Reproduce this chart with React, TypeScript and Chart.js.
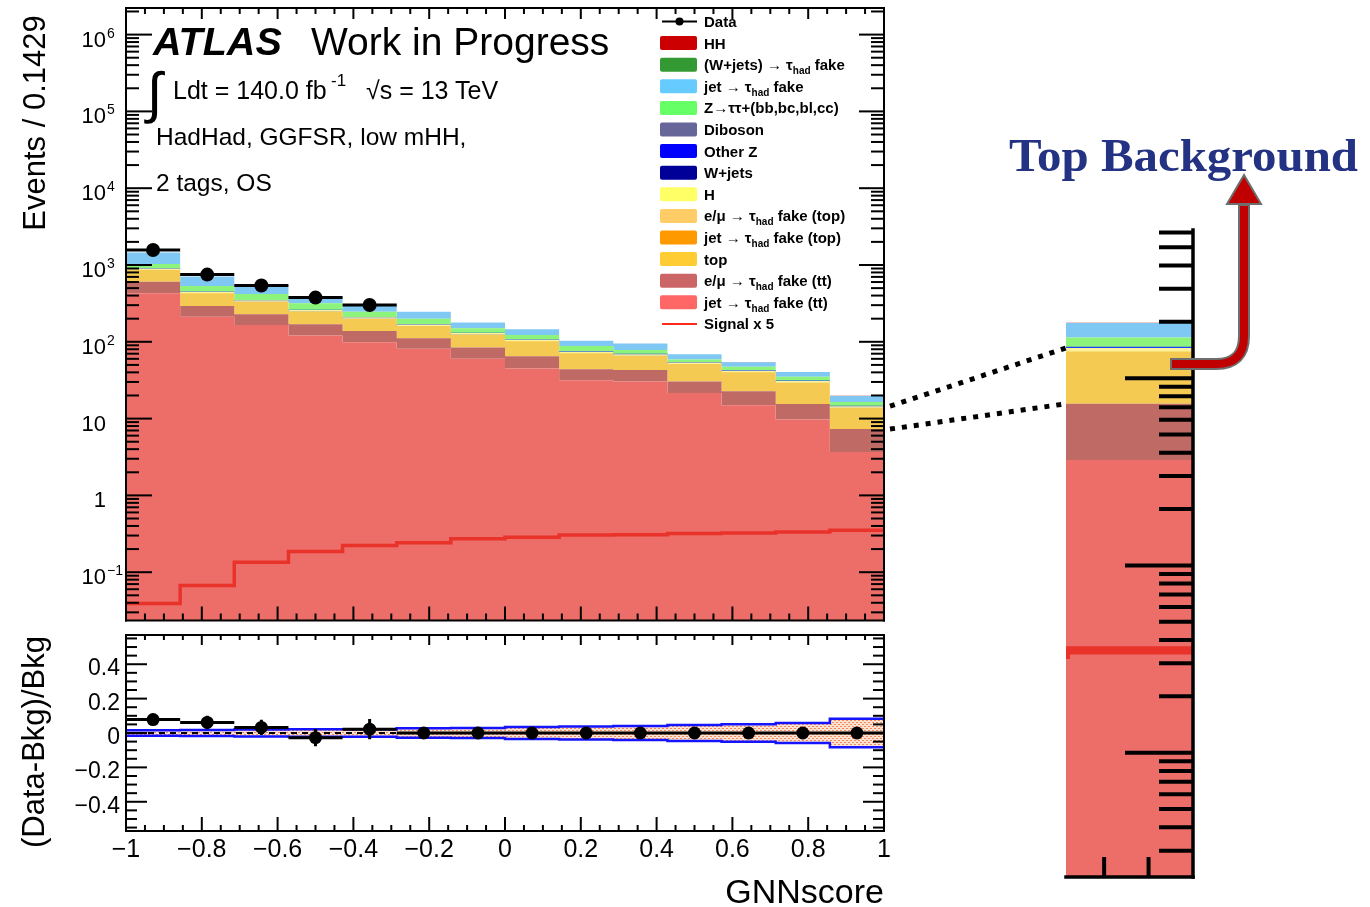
import { useEffect, useRef, useState } from 'react';
import { Chart, registerables } from 'chart.js';

Chart.register(...registerables);

const SANS = '"Liberation Sans", Arial, Helvetica, sans-serif';
const SERIF = '"Liberation Serif", "Times New Roman", serif';

// GNNscore binning: 14 bins of width 0.1429 on [-1, 1]
const binEdges = [-1, -0.8571, -0.7143, -0.5714, -0.4286, -0.2857, -0.1429, 0, 0.1429, 0.2857, 0.4286, 0.5714, 0.7143, 0.8571, 1];

// Expected events per bin, stacked from the bottom up
const jetFakeTT = [429, 212, 165, 121, 99, 81, 60, 45, 31.6, 30.4, 21.6, 14.9, 9.7, 3.66];
const emuFakeTT = [178, 80, 63, 48, 39, 30, 24, 20, 12.4, 12.4, 8.8, 7.8, 5.8, 3.64];
const topQuark = [266, 142, 108, 83, 64, 52, 42, 38, 28, 24, 21.4, 17.9, 14.3, 6.7];
const jetFakeTop = [2.0, 1.0, 0.8, 0.6, 0.5, 0.4, 0.3, 0.3, 0.2, 0.2, 0.2, 0.15, 0.1, 0.05];
const emuFakeTop = [1.5, 0.8, 0.6, 0.5, 0.4, 0.3, 0.25, 0.2, 0.15, 0.15, 0.1, 0.1, 0.08, 0.04];
const higgs = [3.0, 1.6, 1.3, 1.0, 0.8, 0.7, 0.5, 0.45, 0.4, 0.35, 0.3, 0.25, 0.2, 0.1];
const wJets = [2.0, 1.1, 0.9, 0.7, 0.5, 0.4, 0.3, 0.3, 0.2, 0.2, 0.15, 0.12, 0.1, 0.05];
const otherZ = [4.0, 2.4, 2.0, 1.6, 1.3, 1.1, 0.9, 0.7, 0.6, 0.5, 0.45, 0.4, 0.3, 0.15];
const diboson = [3.0, 1.5, 1.2, 1.0, 0.8, 0.6, 0.5, 0.4, 0.3, 0.3, 0.25, 0.2, 0.15, 0.1];
const zTauTau = [144, 92, 77, 60, 40, 33, 21, 17, 14, 9.5, 5.7, 5.4, 4.3, 2.0];
const jetFake = [419, 172, 103, 69, 49, 46, 28, 23, 15, 17, 10, 7.1, 5.3, 3.2];
const wJetsFake = [0.5, 0.3, 0.2, 0.15, 0.1, 0.1, 0.08, 0.06, 0.05, 0.05, 0.04, 0.03, 0.02, 0.01];
const hhSignal = [0.008, 0.013, 0.027, 0.037, 0.045, 0.048, 0.055, 0.057, 0.061, 0.061, 0.064, 0.065, 0.067, 0.07];

// HH signal scaled by 5, drawn as a line
const signalX5 = [0.039, 0.067, 0.135, 0.186, 0.223, 0.242, 0.273, 0.286, 0.304, 0.307, 0.32, 0.323, 0.333, 0.352];

// Observed events (signal-like bins are blinded)
const dataObserved: (number | null)[] = [1565, 750, 540, 376, 302, null, null, null, null, null, null, null, null, null];

// Relative background uncertainty (half width of the band in the ratio panel)
const bkgUnc = [0.016, 0.018, 0.02, 0.022, 0.022, 0.028, 0.029, 0.035, 0.038, 0.041, 0.047, 0.051, 0.058, 0.083];

// Axis ticks and labels
const xMajorTicks = [-1, -0.8, -0.6, -0.4, -0.2, 0, 0.2, 0.4, 0.6, 0.8, 1];
const xTickLabels = ['\u22121', '\u22120.8', '\u22120.6', '\u22120.4', '\u22120.2', '0', '0.2', '0.4', '0.6', '0.8', '1'];
const mainYTickValues = [0.1, 1, 10, 100, 1e3, 1e4, 1e5, 1e6];
const mainYTickLabels = [['10', '\u22121'], ['1', ''], ['10', ''], ['10', '2'], ['10', '3'], ['10', '4'], ['10', '5'], ['10', '6']];
const ratioMajorTicks = [-0.4, -0.2, 0, 0.2, 0.4];
const ratioTickLabels = ['\u22120.4', '\u22120.2', '0', '0.2', '0.4'];
const insetMajorTicks = [0.1, 1, 10];
const insetXTicks = [0.9, 0.95];

const xMinorTicks: number[] = [];
for (let k = -19; k <= 19; k++) if (k % 4 !== 0) xMinorTicks.push(k * 0.05);
const ratioMinorTicks: number[] = [];
for (let k = -11; k <= 11; k++) if (k % 4 !== 0) ratioMinorTicks.push(k * 0.05);
const logMinorTicks: number[] = [];
for (let d = -3; d <= 6; d++) for (let m = 2; m <= 9; m++) logMinorTicks.push(m * Math.pow(10, d));

type Layer = { name: string; values: number[]; fill: string; legend: string; line?: string; lineWidth?: number };

const layers: Layer[] = [
  { name: 'jet \u2192 \u03c4_{had} fake (tt)', values: jetFakeTT, fill: '#ed6e68', legend: '#ff6666' },
  { name: 'e/\u03bc \u2192 \u03c4_{had} fake (tt)', values: emuFakeTT, fill: '#c06a66', legend: '#cc6666' },
  { name: 'top', values: topQuark, fill: '#f5ca52', legend: '#ffcc33' },
  { name: 'jet \u2192 \u03c4_{had} fake (top)', values: jetFakeTop, fill: '#f7a030', legend: '#ff9900' },
  { name: 'e/\u03bc \u2192 \u03c4_{had} fake (top)', values: emuFakeTop, fill: '#f8d070', legend: '#ffcc66' },
  { name: 'H', values: higgs, fill: '#fbf07a', legend: '#ffff66', line: '#fbf29a', lineWidth: 1.5 },
  { name: 'W+jets', values: wJets, fill: '#1a1a99', legend: '#000099' },
  { name: 'Other Z', values: otherZ, fill: '#1f3cff', legend: '#0000ff', line: '#1f3cff', lineWidth: 1.5 },
  { name: 'Diboson', values: diboson, fill: '#6a6a9c', legend: '#666699' },
  { name: 'Z\u2192\u03c4\u03c4+(bb,bc,bl,cc)', values: zTauTau, fill: '#8cf47a', legend: '#66ff66' },
  { name: 'jet \u2192 \u03c4_{had} fake', values: jetFake, fill: '#80c8f4', legend: '#66ccff' },
  { name: '(W+jets) \u2192 \u03c4_{had} fake', values: wJetsFake, fill: '#44a044', legend: '#339933' },
  { name: 'HH', values: hhSignal, fill: '#cc2020', legend: '#cc0000' },
];

// cumulative stack levels
const cumulative: number[][] = [];
layers.forEach((l, i) => {
  cumulative.push(l.values.map((v, b) => v + (i > 0 ? cumulative[i - 1][b] : 0)));
});
const bkgTotal = cumulative[layers.length - 2];
const binCenters = binEdges.slice(0, -1).map((e, i) => (e + binEdges[i + 1]) / 2);
const ratioValues = dataObserved.map((d, i) => (d == null ? 0 : d / bkgTotal[i] - 1));
const ratioErrors = dataObserved.map((d, i) => (d == null ? null : Math.sqrt(d) / bkgTotal[i]));

const stepPoints = (vals: number[]) => [
  ...vals.map((v, i) => ({ x: binEdges[i], y: v })),
  { x: binEdges[vals.length], y: vals[vals.length - 1] },
];
const segPoints = (vals: (number | null)[]) =>
  vals.flatMap((v, i) =>
    v == null ? [] : [{ x: binEdges[i], y: v }, { x: binEdges[i + 1], y: v }, { x: binEdges[i + 1], y: null }]
  );
const vBarPoints = (vals: (number | null)[], errs: (number | null)[]) =>
  vals.flatMap((v, i) =>
    v == null || errs[i] == null
      ? []
      : [{ x: binCenters[i], y: v - (errs[i] as number) }, { x: binCenters[i], y: v + (errs[i] as number) }, { x: binCenters[i], y: null }]
  );

function stackDatasets(scale: number): any[] {
  const fills = layers.map((l, i) => ({
    type: 'line',
    label: l.name,
    data: stepPoints(cumulative[i]),
    stepped: true,
    borderColor: 'rgba(0,0,0,0)',
    borderWidth: 0,
    backgroundColor: l.fill,
    fill: i === 0 ? 'start' : '-1',
    pointRadius: 0,
    order: 6,
  }));
  const edges = layers.flatMap((l, i) =>
    l.line
      ? [{
          type: 'line',
          label: l.name + ' edge',
          data: segPoints(cumulative[i]),
          borderColor: l.line,
          borderWidth: (l.lineWidth || 1) * scale,
          pointRadius: 0,
          fill: false,
          spanGaps: false,
          order: 5,
        }]
      : []
  );
  const signal = {
    type: 'line',
    label: 'Signal x 5',
    data: stepPoints(signalX5),
    stepped: true,
    borderColor: '#e8322a',
    borderWidth: 3.5 * scale,
    pointRadius: 0,
    fill: false,
    order: 3,
  };
  return [...fills, ...edges, signal];
}

type TickSet = { values: number[]; len: number };
type Deco = {
  frame: { sides: string[]; width: number };
  tickWidth: number;
  top?: TickSet[];
  bottom?: TickSet[];
  left?: TickSet[];
  right?: TickSet[];
  xLabels?: { values: number[]; texts: string[]; font: string; gap: number };
  yLabels?: { values: number[]; texts: string[]; font: string; right: number; dy: number };
  logLabels?: { values: number[]; labels: string[][]; font: string; supFont: string; right: number; dy: number; supDy: number };
};

// ROOT-style frame with inward ticks on all sides
const axesPlugin = (deco: Deco) => ({
  id: 'rootAxes',
  afterDatasetsDraw(chart: any) {
    const { ctx, chartArea: a } = chart;
    const xs = chart.scales.x;
    const ys = chart.scales.y;
    const inX = (v: number) => v >= xs.min - 1e-9 && v <= xs.max + 1e-9;
    const inY = (v: number) => v >= ys.min - 1e-12 && v <= ys.max + 1e-9;
    const seg = (x1: number, y1: number, x2: number, y2: number) => {
      ctx.beginPath();
      ctx.moveTo(x1, y1);
      ctx.lineTo(x2, y2);
      ctx.stroke();
    };
    ctx.save();
    ctx.strokeStyle = '#000';
    ctx.lineWidth = deco.tickWidth;
    ctx.lineCap = 'butt';
    (deco.bottom || []).forEach((t) => t.values.filter(inX).forEach((v) => {
      const p = xs.getPixelForValue(v);
      seg(p, a.bottom, p, a.bottom - t.len);
    }));
    (deco.top || []).forEach((t) => t.values.filter(inX).forEach((v) => {
      const p = xs.getPixelForValue(v);
      seg(p, a.top, p, a.top + t.len);
    }));
    (deco.left || []).forEach((t) => t.values.filter(inY).forEach((v) => {
      const p = ys.getPixelForValue(v);
      seg(a.left, p, a.left + t.len, p);
    }));
    (deco.right || []).forEach((t) => t.values.filter(inY).forEach((v) => {
      const p = ys.getPixelForValue(v);
      seg(a.right, p, a.right - t.len, p);
    }));
    ctx.lineWidth = deco.frame.width;
    ctx.lineCap = 'square';
    const s = deco.frame.sides;
    if (s.includes('top')) seg(a.left, a.top, a.right, a.top);
    if (s.includes('bottom')) seg(a.left, a.bottom, a.right, a.bottom);
    if (s.includes('left')) seg(a.left, a.top, a.left, a.bottom);
    if (s.includes('right')) seg(a.right, a.top, a.right, a.bottom);
    ctx.fillStyle = '#000';
    if (deco.xLabels) {
      const L = deco.xLabels;
      ctx.font = L.font;
      ctx.textAlign = 'center';
      ctx.textBaseline = 'alphabetic';
      L.values.forEach((v, i) => ctx.fillText(L.texts[i], xs.getPixelForValue(v), a.bottom + L.gap));
    }
    if (deco.yLabels) {
      const L = deco.yLabels;
      ctx.font = L.font;
      ctx.textAlign = 'right';
      ctx.textBaseline = 'alphabetic';
      L.values.forEach((v, i) => ctx.fillText(L.texts[i], L.right, ys.getPixelForValue(v) + L.dy));
    }
    if (deco.logLabels) {
      const L = deco.logLabels;
      ctx.textBaseline = 'alphabetic';
      L.values.forEach((v, i) => {
        if (!inY(v)) return;
        const p = ys.getPixelForValue(v);
        const [base, sup] = L.labels[i];
        ctx.font = L.font;
        ctx.textAlign = 'right';
        ctx.fillText(base, L.right, p + L.dy);
        if (sup) {
          ctx.font = L.supFont;
          ctx.textAlign = 'left';
          ctx.fillText(sup, L.right + 1, p + L.supDy);
        }
      });
    }
    ctx.restore();
  },
});

const MAIN = { left: 0, top: 0, w: 900, h: 630 };
const RATIO = { left: 0, top: 630, w: 900, h: 277 };
const INSET = { left: 1040, top: 210, w: 200, h: 690 };

const baseOptions = (padding: any, x: any, y: any) => ({
  animation: false,
  responsive: false,
  maintainAspectRatio: false,
  events: [],
  layout: { padding, autoPadding: false },
  plugins: { legend: { display: false }, tooltip: { enabled: false } },
  elements: { line: { tension: 0 } },
  scales: { x: { ...x, display: false }, y: { ...y, display: false } },
});

function richText(s: string, subSize: number) {
  const parts = s.split(/_\{([^}]*)\}/);
  return parts.map((p, i) =>
    i % 2 === 1 ? (
      <tspan key={i} dy={4} fontSize={subSize}>{p}</tspan>
    ) : (
      <tspan key={i} dy={i > 0 ? -4 : 0}>{p}</tspan>
    )
  );
}

type Link = { x1: number; y1: number; x2: number; y2: number };

export default function App() {
  const mainRef = useRef<HTMLCanvasElement>(null);
  const ratioRef = useRef<HTMLCanvasElement>(null);
  const insetRef = useRef<HTMLCanvasElement>(null);
  const [links, setLinks] = useState<Link[]>([]);

  useEffect(() => {
    const charts: Chart[] = [];

    const main = new Chart(mainRef.current as HTMLCanvasElement, {
      type: 'line',
      data: {
        datasets: [
          ...stackDatasets(1),
          {
            type: 'line', label: 'Data bins', data: segPoints(dataObserved), borderColor: '#000',
            borderWidth: 3, pointRadius: 0, fill: false, spanGaps: false, order: 2,
          },
          {
            type: 'line', label: 'Data errors',
            data: vBarPoints(dataObserved, dataObserved.map((d) => (d == null ? null : Math.sqrt(d)))),
            borderColor: '#000', borderWidth: 3, pointRadius: 0, fill: false, spanGaps: false, order: 2,
          },
          {
            type: 'line', label: 'Data',
            data: dataObserved.flatMap((d, i) => (d == null ? [] : [{ x: binCenters[i], y: d }])),
            showLine: false, pointRadius: 7, pointBackgroundColor: '#000', pointBorderColor: '#000',
            pointBorderWidth: 0, order: 1,
          },
        ] as any,
      },
      options: baseOptions(
        { left: 126, top: 8, right: MAIN.w - 884, bottom: MAIN.h - 620.5 },
        { type: 'linear', min: -1, max: 1 },
        { type: 'logarithmic', min: 0.0235, max: 2.22e6 }
      ) as any,
      plugins: [axesPlugin({
        frame: { sides: ['top', 'bottom', 'left', 'right'], width: 2 },
        tickWidth: 2,
        bottom: [{ values: xMajorTicks, len: 14 }, { values: xMinorTicks, len: 7 }],
        top: [{ values: xMajorTicks, len: 11 }, { values: xMinorTicks, len: 6 }],
        left: [{ values: mainYTickValues, len: 26 }, { values: logMinorTicks, len: 13 }],
        right: [{ values: mainYTickValues, len: 25 }, { values: logMinorTicks, len: 13 }],
        logLabels: {
          values: mainYTickValues, labels: mainYTickLabels, font: `22px ${SANS}`,
          supFont: `14px ${SANS}`, right: 106, dy: 12, supDy: 3,
        },
      })],
    });
    charts.push(main);

    // dotted hatch for the uncertainty band
    const pc = document.createElement('canvas');
    pc.width = 4;
    pc.height = 4;
    const g = pc.getContext('2d') as CanvasRenderingContext2D;
    g.fillStyle = '#fde2d2';
    g.fillRect(0, 0, 4, 4);
    g.fillStyle = '#f28a5c';
    g.fillRect(0, 0, 2, 1);
    g.fillRect(2, 2, 2, 1);
    const hatch = g.createPattern(pc, 'repeat');

    const ratio = new Chart(ratioRef.current as HTMLCanvasElement, {
      type: 'line',
      data: {
        datasets: [
          {
            type: 'line', label: 'Uncertainty up', data: stepPoints(bkgUnc), stepped: true,
            borderColor: '#1414ff', borderWidth: 2.5, pointRadius: 0, fill: false, order: 6,
          },
          {
            type: 'line', label: 'Uncertainty', data: stepPoints(bkgUnc.map((v) => -v)), stepped: true,
            borderColor: '#1414ff', borderWidth: 2.5, pointRadius: 0, fill: '-1', backgroundColor: hatch, order: 6,
          },
          {
            type: 'line', label: 'Zero', data: [{ x: -1, y: 0 }, { x: 1, y: 0 }], borderColor: '#000',
            borderWidth: 2, borderDash: [6, 5], pointRadius: 0, fill: false, order: 4,
          },
          {
            type: 'line', label: 'Ratio bins', data: segPoints(ratioValues), borderColor: '#000',
            borderWidth: 3, pointRadius: 0, fill: false, spanGaps: false, order: 2,
          },
          {
            type: 'line', label: 'Ratio errors', data: vBarPoints(ratioValues, ratioErrors), borderColor: '#000',
            borderWidth: 3, pointRadius: 0, fill: false, spanGaps: false, order: 2,
          },
          {
            type: 'line', label: 'Ratio', data: ratioValues.map((r, i) => ({ x: binCenters[i], y: r })),
            showLine: false, pointRadius: 6.5, pointBackgroundColor: '#000', pointBorderColor: '#000',
            pointBorderWidth: 0, order: 1,
          },
        ] as any,
      },
      options: baseOptions(
        { left: 126, top: 635 - RATIO.top, right: RATIO.w - 884, bottom: RATIO.top + RATIO.h - 831 },
        { type: 'linear', min: -1, max: 1 },
        { type: 'linear', min: -0.57, max: 0.57 }
      ) as any,
      plugins: [axesPlugin({
        frame: { sides: ['top', 'bottom', 'left', 'right'], width: 2 },
        tickWidth: 2,
        bottom: [{ values: xMajorTicks, len: 14 }, { values: xMinorTicks, len: 6 }],
        top: [{ values: xMajorTicks, len: 10 }, { values: xMinorTicks, len: 5 }],
        left: [{ values: ratioMajorTicks, len: 21 }, { values: ratioMinorTicks, len: 11 }],
        right: [{ values: ratioMajorTicks, len: 21 }, { values: ratioMinorTicks, len: 11 }],
        xLabels: { values: xMajorTicks, texts: xTickLabels, font: `25px ${SANS}`, gap: 26 },
        yLabels: { values: ratioMajorTicks, texts: ratioTickLabels, font: `23px ${SANS}`, right: 120, dy: 11 },
      })],
    });
    charts.push(ratio);

    const inset = new Chart(insetRef.current as HTMLCanvasElement, {
      type: 'line',
      data: { datasets: stackDatasets(2.3) as any },
      options: baseOptions(
        { left: 1066 - INSET.left, top: 230 - INSET.top, right: INSET.left + INSET.w - 1193, bottom: INSET.top + INSET.h - 877 },
        { type: 'linear', min: 0.8571, max: 1 },
        { type: 'logarithmic', min: 0.0217, max: 61.8 }
      ) as any,
      plugins: [axesPlugin({
        frame: { sides: ['right', 'bottom'], width: 3.5 },
        tickWidth: 4,
        right: [{ values: insetMajorTicks, len: 68 }, { values: logMinorTicks, len: 34 }],
        bottom: [{ values: insetXTicks, len: 20 }],
      })],
    });
    charts.push(inset);

    // connectors from the last bin of the main panel to the magnified view
    const last = binEdges.length - 2;
    const levels = [cumulative[8][last], cumulative[1][last]];
    setLinks(levels.map((v) => ({
      x1: MAIN.left + main.chartArea.right + 6,
      y1: MAIN.top + main.scales.y.getPixelForValue(v),
      x2: INSET.left + inset.chartArea.left,
      y2: INSET.top + inset.scales.y.getPixelForValue(v),
    })));

    return () => charts.forEach((c) => c.destroy());
  }, []);

  const legendRowY = (i: number) => 21.5 + 21.6 * i;
  const legendLayers = [...layers].reverse();

  return (
    <div style={{ position: 'absolute', left: 0, top: 0, width: 1370, height: 907, background: '#fff', overflow: 'hidden' }}>
      <canvas ref={mainRef} width={MAIN.w} height={MAIN.h}
        style={{ position: 'absolute', left: MAIN.left, top: MAIN.top, width: MAIN.w, height: MAIN.h }} />
      <canvas ref={ratioRef} width={RATIO.w} height={RATIO.h}
        style={{ position: 'absolute', left: RATIO.left, top: RATIO.top, width: RATIO.w, height: RATIO.h }} />
      <canvas ref={insetRef} width={INSET.w} height={INSET.h}
        style={{ position: 'absolute', left: INSET.left, top: INSET.top, width: INSET.w, height: INSET.h }} />
      <svg width={1370} height={907} style={{ position: 'absolute', left: 0, top: 0 }} fontFamily={SANS}>
        <text x={153} y={55} fontSize={39.5} fontWeight="bold" fontStyle="italic">ATLAS</text>
        <text x={311} y={55} fontSize={39}>Work in Progress</text>
        <text x={147} y={112} fontSize={56}>{'\u222b'}</text>
        <text x={173} y={99} fontSize={25}>Ldt = 140.0 fb</text>
        <text x={331} y={86} fontSize={17}>-1</text>
        <text x={366} y={99} fontSize={25}>{'\u221as = 13 TeV'}</text>
        <text x={156} y={145} fontSize={24.5}>HadHad, GGFSR, low mHH,</text>
        <text x={156} y={191} fontSize={24.5}>2 tags, OS</text>

        <g fontWeight="bold" fontSize={15}>
          <line x1={662} x2={697} y1={legendRowY(0)} y2={legendRowY(0)} stroke="#000" strokeWidth={2} />
          <circle cx={679.5} cy={legendRowY(0)} r={4} fill="#000" />
          <text x={704} y={legendRowY(0) + 5.5}>Data</text>
          {legendLayers.map((l, k) => {
            const cy = legendRowY(k + 1);
            return (
              <g key={l.name}>
                <rect x={660} y={cy - 7} width={37} height={14} rx={2} fill={l.legend} />
                <text x={704} y={cy + 5.5} style={{ whiteSpace: 'pre' }}>{richText(l.name, 10)}</text>
              </g>
            );
          })}
          <line x1={662} x2={697} y1={legendRowY(14)} y2={legendRowY(14)} stroke="#ff2a1a" strokeWidth={2} />
          <text x={704} y={legendRowY(14) + 5.5}>Signal x 5</text>
        </g>

        <text transform="translate(45,123) rotate(-90)" textAnchor="middle" fontSize={31}>Events / 0.1429</text>
        <text transform="translate(44,742) rotate(-90)" textAnchor="middle" fontSize={31}>(Data-Bkg)/Bkg</text>
        <text x={884} y={903} textAnchor="end" fontSize={34}>GNNscore</text>

        {links.map((l, i) => (
          <line key={i} x1={l.x1} y1={l.y1} x2={l.x2} y2={l.y2} stroke="#000" strokeWidth={5} strokeDasharray="5 7" />
        ))}

        <text x={1009} y={171} fontFamily={SERIF} fontWeight="bold" fontSize={46} fill="#233282"
          textLength={349} lengthAdjust="spacingAndGlyphs">Top Background</text>
        <path d="M1170 364 H1216 Q1244 364 1244 336 V203" stroke="#6e6e6e" strokeWidth={12} fill="none" />
        <path d="M1172 364 H1216 Q1244 364 1244 336 V206" stroke="#c00000" strokeWidth={8} fill="none" />
        <polygon points="1227,204 1261,204 1244,175" fill="#c00000" stroke="#6e6e6e" strokeWidth={2} />
      </svg>
    </div>
  );
}
